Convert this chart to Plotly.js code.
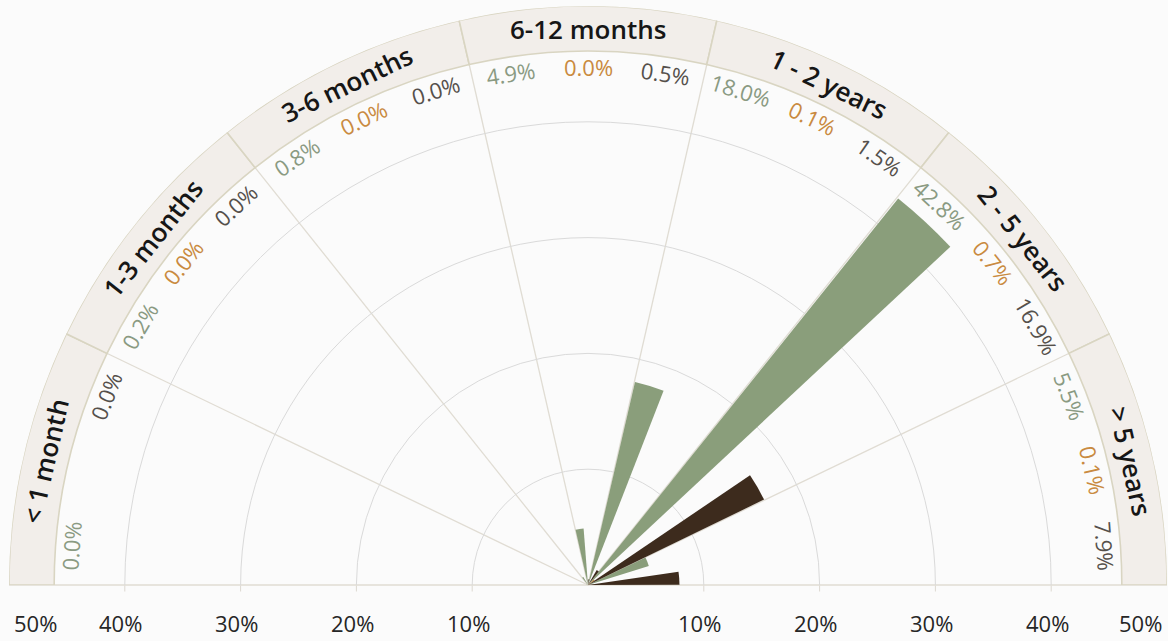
<!DOCTYPE html>
<html><head><meta charset="utf-8">
<script src="https://cdn.plot.ly/plotly-3.0.1.min.js"></script>
<style>html,body{margin:0;padding:0;background:#fbfbfb;}#chart{width:1168px;height:641px;}</style>
</head><body><div id="chart"></div>
<script>
// ---- data ----
const categories = ['< 1 month', '1-3 months', '3-6 months', '6-12 months', '1 - 2 years', '2 - 5 years', '> 5 years'];
const seriesNames = ['Series 1', 'Series 2', 'Series 3'];
const greenValues = [0.0, 0.2, 0.8, 4.9, 18.0, 42.8, 5.5];
const orangeValues = [0.0, 0.0, 0.0, 0.0, 0.1, 0.7, 0.1];
const darkValues = [0.0, 0.0, 0.0, 0.5, 1.5, 16.9, 7.9];
const orangeLabelShown = [false, true, true, true, true, true, true];
const radialTickVals = [10, 20, 30, 40, 50];
const radialTickText = ['10%', '20%', '30%', '40%', '50%'];

// ---- style / geometry ----
const W = 1168, H = 641;
const colors = ['#8a9e7b', '#c98a40', '#3d2b1d'];
const labelColors = ['#8a9a82', '#c98a40', '#55504b'];
const FONT = 'Open Sans, Noto Sans, sans-serif';
const rMax = 50;
const bandInner = 46.1;
const dom = {x: [9 / W, 1167 / W], y: [56 / H, 635 / H]};
const Rpx = (dom.x[1] - dom.x[0]) * W / 2;
const cxPx = (dom.x[0] + dom.x[1]) / 2 * W;
const cyPx = H - dom.y[0] * H;
const n = categories.length;
const sectorW = 180 / n;
const barW = sectorW / 3;

function sectorCenter(i) { return 180 - (i + 0.5) * sectorW; }
function barTheta(i, k) { return 180 - i * sectorW - (k + 0.5) * barW; }
function toPaper(r, th) {
  const a = th * Math.PI / 180;
  return {x: (cxPx + r / rMax * Rpx * Math.cos(a)) / W,
          y: 1 - (cyPx - r / rMax * Rpx * Math.sin(a)) / H};
}
function esc(s) { return s.replace(/</g, '&lt;').replace(/>/g, '&gt;'); }

const allSeries = [greenValues, orangeValues, darkValues];
const traces = [];

// outer category band
traces.push({
  type: 'barpolar', subplot: 'polar',
  r: categories.map(() => rMax - bandInner), base: bandInner,
  theta: categories.map((c, i) => sectorCenter(i)), width: sectorW,
  marker: {color: '#f2eeea', line: {color: '#d9d5c2', width: 1.6}},
  hoverinfo: 'skip', showlegend: false
});

allSeries.forEach((vals, k) => {
  traces.push({
    type: 'barpolar', subplot: 'polar', name: seriesNames[k],
    r: vals, theta: vals.map((v, i) => barTheta(i, k)), width: barW * 0.96,
    marker: {color: colors[k], line: {width: 0}},
    text: categories, hovertemplate: '%{text}: %{r:.1f}%<extra></extra>', showlegend: false
  });
});

// helper trace for second polar (left side ticks)
traces.push({type: 'scatterpolar', subplot: 'polar2', r: [0], theta: [0], mode: 'markers',
  marker: {opacity: 0}, hoverinfo: 'skip', showlegend: false});

const annotations = [];
// value labels
allSeries.forEach((vals, k) => {
  vals.forEach((v, i) => {
    if (k === 1 && !orangeLabelShown[i]) return;
    const th = barTheta(i, k);
    const p = toPaper(44.75, th);
    annotations.push({xref: 'paper', yref: 'paper', x: p.x, y: p.y, xanchor: 'center', yanchor: 'middle',
      text: v.toFixed(1) + '%', textangle: 90 - th, showarrow: false,
      font: {family: FONT, size: 22, color: labelColors[k], weight: 500}});
  });
});
// category labels
categories.forEach((c, i) => {
  const th = sectorCenter(i);
  const p = toPaper(48.05, th);
  annotations.push({xref: 'paper', yref: 'paper', x: p.x, y: p.y, xanchor: 'center', yanchor: 'middle',
    text: esc(c), textangle: 90 - th, showarrow: false,
    font: {family: FONT, size: 26, color: '#161616', weight: 600}});
});
// radial tick labels on both sides
const tickY = (H - 623) / H;
radialTickVals.forEach((v, j) => {
  [0, 180].forEach(side => {
    const p = toPaper(v, side);
    const inward = v === rMax ? (side === 0 ? -27 : 26) : -4;
    annotations.push({xref: 'paper', yref: 'paper', x: p.x, y: tickY, xanchor: 'center', yanchor: 'middle',
      xshift: inward, text: radialTickText[j], showarrow: false,
      font: {family: FONT, size: 22, color: '#262626'}});
  });
});

const boundaries = [];
for (let i = 0; i <= n; i++) boundaries.push(i * sectorW);

const layout = {
  width: W, height: H, margin: {l: 0, r: 0, t: 0, b: 0},
  paper_bgcolor: '#fbfbfb', showlegend: false,
  polar: {
    domain: dom, sector: [0, 180], bgcolor: '#fbfbfb', hole: 0,
    radialaxis: {range: [0, rMax], tickvals: radialTickVals.slice(0, 4), showticklabels: false,
      ticks: 'outside', ticklen: 6, tickcolor: '#dcd8d0', side: 'clockwise', angle: 0,
      showline: false, gridcolor: '#dadada', gridwidth: 1},
    angularaxis: {thetaunit: 'degrees', direction: 'counterclockwise', rotation: 0,
      tickvals: boundaries, showticklabels: false, ticks: '', showline: false,
      gridcolor: '#e0dcd3', gridwidth: 1.3}
  },
  polar2: {
    domain: dom, sector: [0, 180], bgcolor: 'rgba(0,0,0,0)',
    radialaxis: {range: [0, rMax], tickvals: radialTickVals.slice(0, 4), showticklabels: false,
      ticks: 'outside', ticklen: 6, tickcolor: '#dcd8d0', side: 'counterclockwise', angle: 180,
      showline: false, showgrid: false},
    angularaxis: {visible: false, showgrid: false, showline: false, ticks: ''}
  },
  annotations: annotations
};

Plotly.newPlot('chart', traces, layout, {displayModeBar: false, staticPlot: true});
</script></body></html>
